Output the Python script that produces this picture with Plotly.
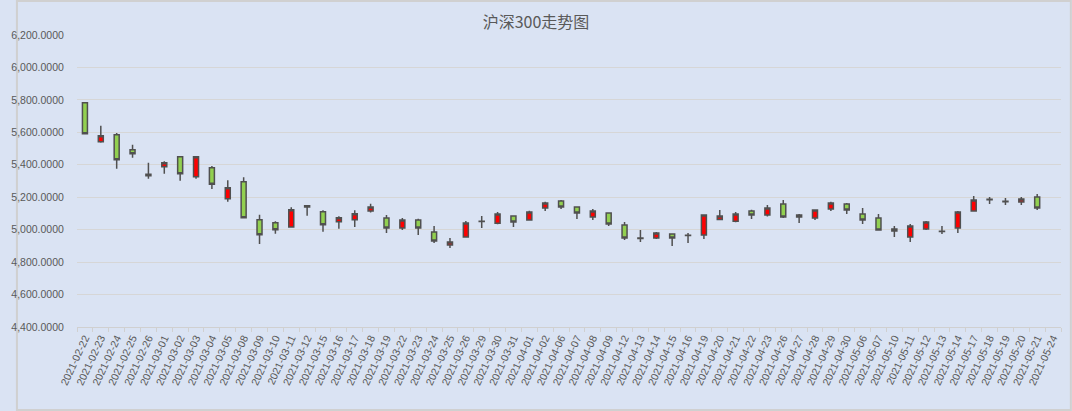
import plotly.graph_objects as go

title = '沪深300走势图'

dates = ['2021-02-22', '2021-02-23', '2021-02-24', '2021-02-25', '2021-02-26',
         '2021-03-01', '2021-03-02', '2021-03-03', '2021-03-04', '2021-03-05',
         '2021-03-08', '2021-03-09', '2021-03-10', '2021-03-11', '2021-03-12',
         '2021-03-15', '2021-03-16', '2021-03-17', '2021-03-18', '2021-03-19',
         '2021-03-22', '2021-03-23', '2021-03-24', '2021-03-25', '2021-03-26',
         '2021-03-29', '2021-03-30', '2021-03-31', '2021-04-01', '2021-04-02',
         '2021-04-06', '2021-04-07', '2021-04-08', '2021-04-09', '2021-04-12',
         '2021-04-13', '2021-04-14', '2021-04-15', '2021-04-16', '2021-04-19',
         '2021-04-20', '2021-04-21', '2021-04-22', '2021-04-23', '2021-04-26',
         '2021-04-27', '2021-04-28', '2021-04-29', '2021-04-30', '2021-05-06',
         '2021-05-07', '2021-05-10', '2021-05-11', '2021-05-12', '2021-05-13',
         '2021-05-14', '2021-05-17', '2021-05-18', '2021-05-19', '2021-05-20',
         '2021-05-21', '2021-05-24']

open_ = [5782.9, 5542.5, 5585.6, 5493.1, 5341.1, 5388.4, 5450.0, 5326.7, 5382.2, 5191.1,
         5295.9, 5061.6, 5043.2, 5016.4, 5147.9, 5111.0, 5049.3, 5061.6, 5114.6, 5071.6,
         5010.2, 5059.3, 4985.6, 4905.8, 4954.9, 5050.0, 5038.9, 5083.9, 5059.3, 5133.1,
         5176.1, 5139.2, 5077.8, 5102.3, 5028.6, 4949.0, 4948.8, 4973.3, 4966.0, 4967.2,
         5063.4, 5051.2, 5114.6, 5090.1, 5157.6, 5077.8, 5071.6, 5126.9, 5157.6, 5096.2,
         5071.6, 5004.1, 4954.9, 5004.1, 4991.0, 5010.2, 5114.6, 5187.5, 5175.2, 5169.9,
         5200.6, None]
high = [5782.9, 5641.1, 5595.9, 5524.0, 5413.0, 5421.2, 5452.0, 5452.0, 5392.5, 5304.1,
        5322.6, 5092.5, 5051.4, 5137.7, 5150.0, 5119.2, 5082.2, 5119.2, 5159.7, 5090.1,
        5071.6, 5067.5, 5022.5, 4948.8, 5053.2, 5083.9, 5108.5, 5085.0, 5116.7, 5172.0,
        5182.2, 5140.5, 5126.9, 5103.5, 5047.1, 4997.9, 4985.6, 4974.5, 4979.5, 5091.0,
        5120.8, 5108.5, 5122.8, 5151.5, 5182.2, 5096.2, 5122.0, 5172.0, 5163.8, 5133.1,
        5096.2, 5022.5, 5034.8, 5053.2, 5022.5, 5114.6, 5206.8, 5200.6, 5194.5, 5200.6,
        5219.1, None]
low = [5591.8, 5536.3, 5376.0, 5443.8, 5314.4, 5345.2, 5302.0, 5314.4, 5250.7, 5172.6,
       5073.0, 4911.6, 4975.4, 5015.0, 5086.3, 4987.7, 5006.2, 5016.4, 5106.4, 4979.5,
       4997.9, 4967.2, 4918.1, 4887.3, 4953.0, 5010.2, 5032.7, 5016.3, 5057.3, 5114.6,
       5126.9, 5065.5, 5059.3, 5022.5, 4936.5, 4924.2, 4942.6, 4899.6, 4918.1, 4942.6,
       5057.3, 5045.0, 5065.5, 5081.9, 5071.6, 5040.9, 5059.3, 5114.6, 5096.2, 5034.8,
       4996.0, 4954.9, 4924.2, 4997.9, 4973.3, 4979.5, 5113.0, 5157.6, 5151.5, 5151.5,
       5120.8, None]
close = [5591.8, 5579.5, 5431.5, 5468.5, 5332.9, 5413.0, 5345.2, 5450.0, 5279.5, 5259.0,
         5074.0, 4969.2, 5000.0, 5123.3, 5139.7, 5030.8, 5074.0, 5098.6, 5139.2, 5010.2,
         5059.3, 5010.2, 4930.3, 4924.2, 5040.9, 5052.0, 5096.2, 5047.1, 5108.5, 5163.8,
         5139.2, 5102.3, 5114.6, 5034.8, 4948.8, 4945.0, 4979.5, 4948.8, 4964.0, 5090.1,
         5083.9, 5096.2, 5090.1, 5133.1, 5077.8, 5090.1, 5120.8, 5163.8, 5120.8, 5059.3,
         4997.9, 4991.8, 5022.5, 5047.1, 4988.5, 5108.5, 5182.2, 5185.0, 5172.8, 5188.4,
         5133.1, None]

bg = '#DAE3F3'
txt = '#595959'
edge = '#505050'

W, H = 1072, 411
L, R, T, B = 62, 11, 35, 84

trace = go.Candlestick(
    x=dates, open=open_, high=high, low=low, close=close,
    whiskerwidth=0,
    increasing=dict(fillcolor='#FF0000', line=dict(color=edge, width=1.5)),
    decreasing=dict(fillcolor='#92D050', line=dict(color=edge, width=1.5)),
    showlegend=False,
)

fig = go.Figure(data=[trace])

# thin grey frame round the whole chart, like the spreadsheet export
pw, ph = W - L - R, H - T - B
fig.add_shape(type='rect', xref='paper', yref='paper',
              x0=(1 - L) / pw, x1=(W - 1 - L) / pw,
              y0=-(B - 1) / ph, y1=1 + (T - 1) / ph,
              line=dict(color='#D0D0D0', width=2), layer='below')

fig.update_layout(
    width=W, height=H,
    margin=dict(l=L, r=R, t=T, b=B),
    paper_bgcolor=bg, plot_bgcolor=bg,
    boxgap=0.55,
    title=dict(text=title, x=0.5, xanchor='center', y=0.945, yanchor='middle',
               font=dict(family='Noto Sans CJK SC', size=16, color=txt)),
    font=dict(family='Liberation Sans', size=10, color=txt),
)
fig.update_xaxes(
    type='category', rangeslider=dict(visible=False),
    showgrid=False, showline=True, linecolor='#D0D0D0', linewidth=1,
    ticks='outside', tickson='boundaries', ticklen=4, tickcolor='#D0D0D0',
    tickangle=-65, tickfont=dict(size=10.5, color=txt),
)
fig.update_yaxes(
    range=[4400, 6200], dtick=200, tickformat=',.4f',
    showgrid=True, gridcolor='#D6D6D6', gridwidth=1, zeroline=False,
    ticks='outside', ticklen=10, tickcolor='rgba(0,0,0,0)',
    tickfont=dict(size=10.5, color=txt),
)

fig.write_html('out.html', config={'displayModeBar': False},
               post_script="document.body.style.margin='0px';")
